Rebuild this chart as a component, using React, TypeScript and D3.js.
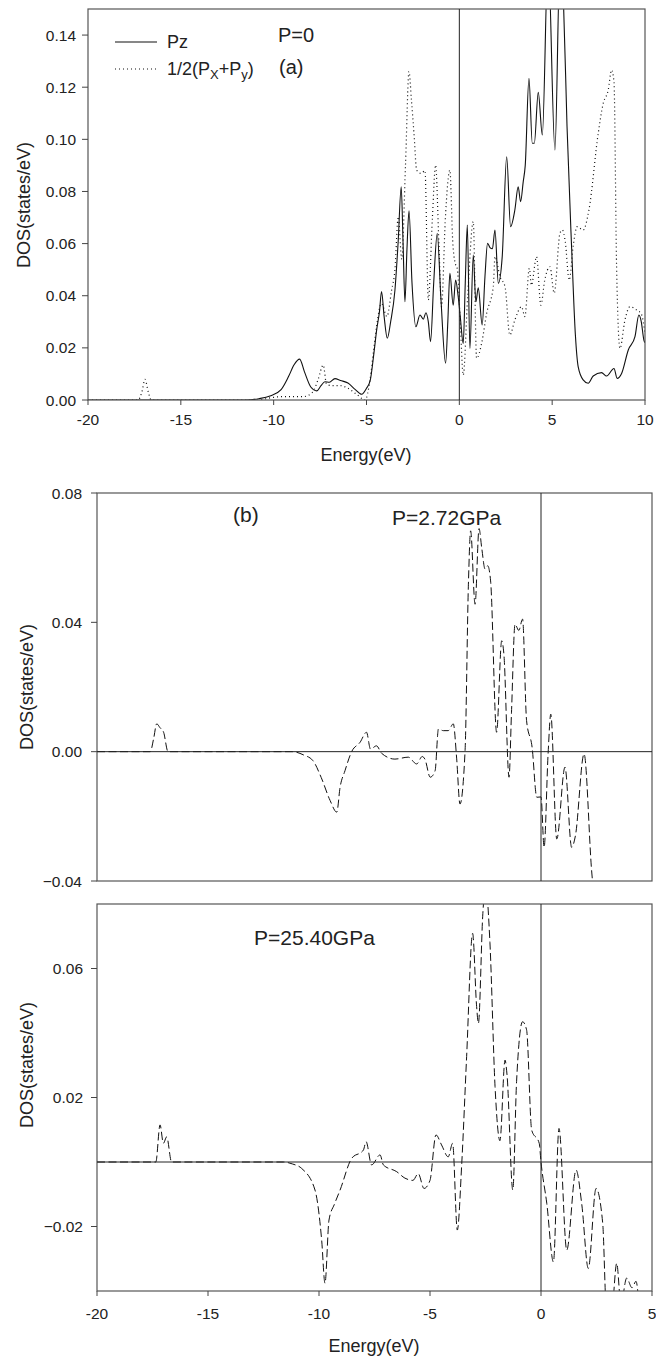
import React from 'react';
import * as d3 from 'd3';

type Pt = [number, number];

// panel (a): P=0, Pz (solid) and 1/2(Px+Py) (dotted)
const pzP0: Pt[] = [
  [-20, 0], [-11.5, 0], [-10.8, 0.0005], [-10.2, 0.0015], [-9.6, 0.004], [-9.2, 0.009], [-8.9, 0.0135],
  [-8.6, 0.0157], [-8.35, 0.011], [-8.0, 0.005], [-7.68, 0.0035], [-7.45, 0.0055], [-7.24, 0.007],
  [-7.0, 0.0068], [-6.7, 0.0082], [-6.4, 0.0075], [-6.0, 0.0065], [-5.6, 0.004], [-5.26, 0.0022],
  [-5.0, 0.0045], [-4.8, 0.0075], [-4.6, 0.018], [-4.45, 0.027], [-4.3, 0.034], [-4.19, 0.0416],
  [-4.05, 0.032], [-3.88, 0.0237], [-3.7, 0.03], [-3.47, 0.042], [-3.3, 0.06], [-3.13, 0.0818],
  [-3.03, 0.06], [-2.93, 0.0377], [-2.82, 0.058], [-2.71, 0.0726], [-2.55, 0.045], [-2.34, 0.0281],
  [-2.12, 0.0326], [-1.94, 0.031], [-1.8, 0.0335], [-1.67, 0.03], [-1.55, 0.0224], [-1.38, 0.045],
  [-1.19, 0.0639], [-1.0, 0.04], [-0.74, 0.0141], [-0.62, 0.03], [-0.51, 0.0486], [-0.33, 0.0364],
  [-0.2, 0.046], [-0.06, 0.0396], [0.05, 0.032], [0.21, 0.0217], [0.32, 0.045], [0.43, 0.0671],
  [0.57, 0.0198], [0.75, 0.0556], [0.89, 0.0377], [1.02, 0.043], [1.23, 0.0288], [1.38, 0.0473],
  [1.52, 0.0601], [1.65, 0.0585], [1.78, 0.058], [1.92, 0.0652], [2.1, 0.0448], [2.31, 0.055],
  [2.55, 0.0933], [2.76, 0.0665], [2.99, 0.0729], [3.17, 0.0818], [3.3, 0.0761], [3.44, 0.0837],
  [3.55, 0.09], [3.75, 0.1234], [3.93, 0.0985], [4.04, 0.0985], [4.25, 0.118], [4.47, 0.1017],
  [4.78, 0.17], [5.15, 0.0959], [5.42, 0.168], [5.62, 0.15], [5.8, 0.105], [6.05, 0.058],
  [6.25, 0.025], [6.4, 0.0128], [6.67, 0.0077], [6.94, 0.0064], [7.21, 0.0092], [7.66, 0.0105],
  [7.93, 0.0092], [8.33, 0.0121], [8.5, 0.0083], [8.74, 0.0102], [9.1, 0.0192], [9.46, 0.0243],
  [9.67, 0.0326], [9.8, 0.03], [9.94, 0.023], [10, 0.022],
];

const pxyP0: Pt[] = [
  [-20, 0], [-17.3, 0], [-17.1, 0.003], [-16.93, 0.0079], [-16.75, 0.003], [-16.6, 0], [-10.8, 0],
  [-10.2, 0.0008], [-9.5, 0.0013], [-8.4, 0.0013], [-7.9, 0.003], [-7.6, 0.008], [-7.33, 0.0134],
  [-7.15, 0.006], [-6.8, 0.0055], [-6.4, 0.0055], [-6.0, 0.0045], [-5.5, 0.002], [-5.08, 0],
  [-4.81, 0.0077], [-4.6, 0.02], [-4.46, 0.0281], [-4.19, 0.037], [-3.9, 0.032], [-3.65, 0.042],
  [-3.47, 0.0499], [-3.29, 0.0703], [-3.1, 0.054], [-2.9, 0.09], [-2.71, 0.126], [-2.58, 0.115],
  [-2.44, 0.102], [-2.3, 0.0882], [-2.05, 0.0869], [-1.85, 0.088], [-1.67, 0.0384], [-1.45, 0.07],
  [-1.28, 0.0901], [-1.1, 0.06], [-0.96, 0.0358], [-0.75, 0.07], [-0.51, 0.0882], [-0.35, 0.06],
  [-0.24, 0.053], [-0.1, 0.05], [0.05, 0.03], [0.21, 0.0096], [0.45, 0.04], [0.75, 0.0684],
  [0.93, 0.016], [1.22, 0.0224], [1.47, 0.0332], [1.83, 0.0435], [1.92, 0.055], [2.19, 0.0473],
  [2.46, 0.0435], [2.72, 0.0249], [2.99, 0.0307], [3.35, 0.0358], [3.53, 0.032], [3.77, 0.0505],
  [3.88, 0.044], [4.16, 0.055], [4.39, 0.0364], [4.6, 0.046], [4.88, 0.0511], [5.11, 0.041],
  [5.42, 0.064], [5.55, 0.0652], [5.7, 0.061], [5.92, 0.046], [6.13, 0.059], [6.35, 0.0665],
  [6.67, 0.0652], [6.98, 0.0729], [7.48, 0.1023], [7.75, 0.1138], [8.02, 0.1189], [8.2, 0.1266],
  [8.33, 0.122], [8.47, 0.0511], [8.65, 0.0198], [8.92, 0.0307], [9.19, 0.0358], [9.55, 0.0345],
  [9.8, 0.033], [10, 0.0256],
];

// panel (b): P=2.72GPa
const dosP272: Pt[] = [
  [-20, 0], [-17.6, 0], [-17.45, 0.004], [-17.31, 0.0086], [-17.16, 0.0074], [-17.0, 0.006],
  [-16.8, 0], [-11.2, 0], [-10.7, -0.001], [-10.27, -0.0028], [-9.9, -0.008], [-9.5, -0.0151],
  [-9.2, -0.0187], [-9.05, -0.011], [-8.83, -0.0059], [-8.53, 0], [-8.15, 0.0029], [-7.86, 0.006],
  [-7.68, 0.0008], [-7.41, 0.0018], [-7.18, -0.0005], [-6.58, -0.0023], [-5.98, -0.0017],
  [-5.6, -0.0038], [-5.35, -0.0015], [-5.23, -0.0023], [-4.99, -0.0079], [-4.77, -0.0059],
  [-4.62, 0.007], [-4.4, 0.0065], [-4.18, 0.0065], [-3.95, 0.0086], [-3.8, -0.002], [-3.65, -0.0162],
  [-3.42, 0.0003], [-3.27, 0.0518], [-3.17, 0.0683], [-2.97, 0.0456], [-2.79, 0.069], [-2.67, 0.063],
  [-2.52, 0.0565], [-2.4, 0.0575], [-2.27, 0.0528], [-2.0, 0.006], [-1.77, 0.0343], [-1.67, 0.03],
  [-1.44, -0.0079], [-1.33, 0.012], [-1.17, 0.0394], [-1.0, 0.0375], [-0.83, 0.041], [-0.65, 0.0096],
  [-0.4, 0.0013], [-0.19, -0.0141], [0, -0.014], [0.14, -0.0296], [0.32, -0.0006], [0.44, 0.0116],
  [0.71, -0.027], [1.08, -0.0048], [1.38, -0.0296], [1.55, -0.026], [1.94, -0.0007], [2.28, -0.0368],
  [2.4, -0.046],
];

// panel (c): P=25.40GPa
const dosP2540: Pt[] = [
  [-20, 0], [-17.35, 0], [-17.16, 0.0115], [-17.01, 0.0058], [-16.86, 0.0078], [-16.64, 0],
  [-11.6, 0], [-11.2, -0.0006], [-10.78, -0.002], [-10.18, -0.0087], [-9.88, -0.0242],
  [-9.73, -0.0376], [-9.55, -0.018], [-9.3, -0.013], [-9.05, -0.0087], [-8.53, 0.0011],
  [-8.0, 0.0037], [-7.88, 0.0063], [-7.63, -0.0009], [-7.25, 0.0022], [-7.1, -0.0009],
  [-6.5, -0.003], [-6.13, -0.005], [-5.77, -0.0057], [-5.53, -0.0036], [-5.27, -0.0082],
  [-5.0, -0.0057], [-4.73, 0.0084], [-4.48, 0.0053], [-4.18, 0.0016], [-3.98, 0.0058],
  [-3.77, -0.0211], [-3.57, -0.0005], [-3.35, 0.0327], [-3.08, 0.0709], [-2.9, 0.0482],
  [-2.82, 0.043], [-2.62, 0.077], [-2.5, 0.086], [-2.3, 0.068], [-2.07, 0.0234], [-1.85, 0.0066],
  [-1.62, 0.0316], [-1.53, 0.027], [-1.27, -0.0087], [-1.1, 0.025], [-0.83, 0.0435], [-0.65, 0.041],
  [-0.42, 0.0099], [-0.08, 0.0058], [0, 0], [0.26, -0.0128], [0.56, -0.031], [0.81, 0.0104],
  [1.16, -0.0273], [1.58, -0.0025], [1.84, -0.0133], [2.13, -0.033], [2.48, -0.0082],
  [2.78, -0.019], [2.95, -0.046], [3.2, -0.045], [3.41, -0.0314], [3.6, -0.044], [3.86, -0.036],
  [4.1, -0.039], [4.28, -0.037], [4.4, -0.043],
];

const xTicksA = [-20, -15, -10, -5, 0, 5, 10];
const yTicksA = [0, 0.02, 0.04, 0.06, 0.08, 0.1, 0.12, 0.14];
const yTicksB = [-0.04, 0, 0.04, 0.08];
const xTicksC = [-20, -15, -10, -5, 0, 5];
const yTicksC = [-0.02, 0.02, 0.06];

const FONT = "'Liberation Sans', Arial, Helvetica, sans-serif";
const fmt = d3.format('.2f');

type Series = { data: Pt[]; dash?: string; width?: number };

function Panel(props: {
  id: string; left: number; top: number; right: number; bottom: number;
  xDomain: [number, number]; yDomain: [number, number];
  xTicks?: number[]; yTicks: number[]; series: Series[];
  zeroH?: boolean; yLabelGap: number; xLabelOffset?: number;
}) {
  const { id, left, top, right, bottom } = props;
  const x = d3.scaleLinear().domain(props.xDomain).range([left, right]);
  const y = d3.scaleLinear().domain(props.yDomain).range([bottom, top]);
  const line = d3.line<Pt>().x(d => x(d[0])).y(d => y(d[1])).curve(d3.curveMonotoneX);
  return (
    <g>
      <defs>
        <clipPath id={id}>
          <rect x={left} y={top} width={right - left} height={bottom - top} />
        </clipPath>
      </defs>
      <g clipPath={`url(#${id})`}>
        {props.series.map((s, i) => (
          <path key={i} d={line(s.data) || ''} fill="none" stroke="#111"
            strokeWidth={s.width ?? 1} strokeDasharray={s.dash} />
        ))}
      </g>
      <rect x={left} y={top} width={right - left} height={bottom - top} fill="none" stroke="#555" strokeWidth={1.2} />
      <line x1={x(0)} x2={x(0)} y1={top} y2={bottom} stroke="#222" strokeWidth={1} />
      {props.zeroH && <line x1={left} x2={right} y1={y(0)} y2={y(0)} stroke="#222" strokeWidth={1} />}
      {props.yTicks.map(t => (
        <g key={'y' + t}>
          <line x1={left - 6} x2={left} y1={y(t)} y2={y(t)} stroke="#444" />
          <text x={left - props.yLabelGap} y={y(t)} dy="0.36em" textAnchor="end"
            fontSize={15.5} fontFamily={FONT} fill="#222">{fmt(t)}</text>
        </g>
      ))}
      {props.xTicks && props.xTicks.map(t => (
        <g key={'x' + t}>
          <line x1={x(t)} x2={x(t)} y1={bottom} y2={bottom + 5} stroke="#444" />
          <text x={x(t)} y={bottom + (props.xLabelOffset ?? 26)} textAnchor="middle"
            fontSize={15.5} fontFamily={FONT} fill="#222">{t}</text>
        </g>
      ))}
    </g>
  );
}

export default function App() {
  return (
    <svg width={656} height={1361} style={{ position: 'absolute', left: 0, top: 0, background: '#fff' }}>
      {/* (a) */}
      <Panel id="clipA" left={88} top={9} right={645} bottom={400}
        xDomain={[-20, 10]} yDomain={[0, 0.15]} xTicks={xTicksA} yTicks={yTicksA}
        yLabelGap={12} xLabelOffset={25}
        series={[{ data: pxyP0, dash: '1,3', width: 1.2 }, { data: pzP0, width: 1.1 }]} />
      <line x1={115} x2={157} y1={42} y2={42} stroke="#111" strokeWidth={1.1} />
      <line x1={115} x2={157} y1={69} y2={69} stroke="#111" strokeWidth={1.2} strokeDasharray="1,3" />
      <g fontFamily={FONT} fill="#222">
        <text x={167} y={48} fontSize={18}>Pz</text>
        <text x={167} y={75} fontSize={18}>
          1/2(P<tspan fontSize={13} dy={4}>X</tspan><tspan dy={-4}>+P</tspan>
          <tspan fontSize={13} dy={4}>y</tspan><tspan dy={-4}>)</tspan>
        </text>
        <text x={278} y={42} fontSize={20}>P=0</text>
        <text x={279} y={74} fontSize={20}>(a)</text>
        <text x={366} y={461} fontSize={18} textAnchor="middle">Energy(eV)</text>
        <text transform="translate(30,205) rotate(-90)" fontSize={18} textAnchor="middle">DOS(states/eV)</text>
      </g>

      {/* (b) */}
      <Panel id="clipB" left={97} top={493} right={652} bottom={881}
        xDomain={[-20, 5]} yDomain={[-0.04, 0.08]} yTicks={yTicksB} zeroH yLabelGap={15}
        series={[{ data: dosP272, dash: '8,3.5', width: 1 }]} />
      <g fontFamily={FONT} fill="#222">
        <text x={233} y={522} fontSize={21}>(b)</text>
        <text x={392} y={525} fontSize={21}>P=2.72GPa</text>
        <text transform="translate(33,687) rotate(-90)" fontSize={18} textAnchor="middle">DOS(states/eV)</text>
      </g>

      {/* (c) */}
      <Panel id="clipC" left={97} top={904} right={652} bottom={1291}
        xDomain={[-20, 5]} yDomain={[-0.04, 0.08]} xTicks={xTicksC} yTicks={yTicksC} zeroH
        yLabelGap={14} xLabelOffset={28}
        series={[{ data: dosP2540, dash: '8,3.5', width: 1 }]} />
      <g fontFamily={FONT} fill="#222">
        <text x={254} y={945} fontSize={21}>P=25.40GPa</text>
        <text x={374} y={1352} fontSize={18} textAnchor="middle">Energy(eV)</text>
        <text transform="translate(33,1065) rotate(-90)" fontSize={18} textAnchor="middle">DOS(states/eV)</text>
      </g>
    </svg>
  );
}
